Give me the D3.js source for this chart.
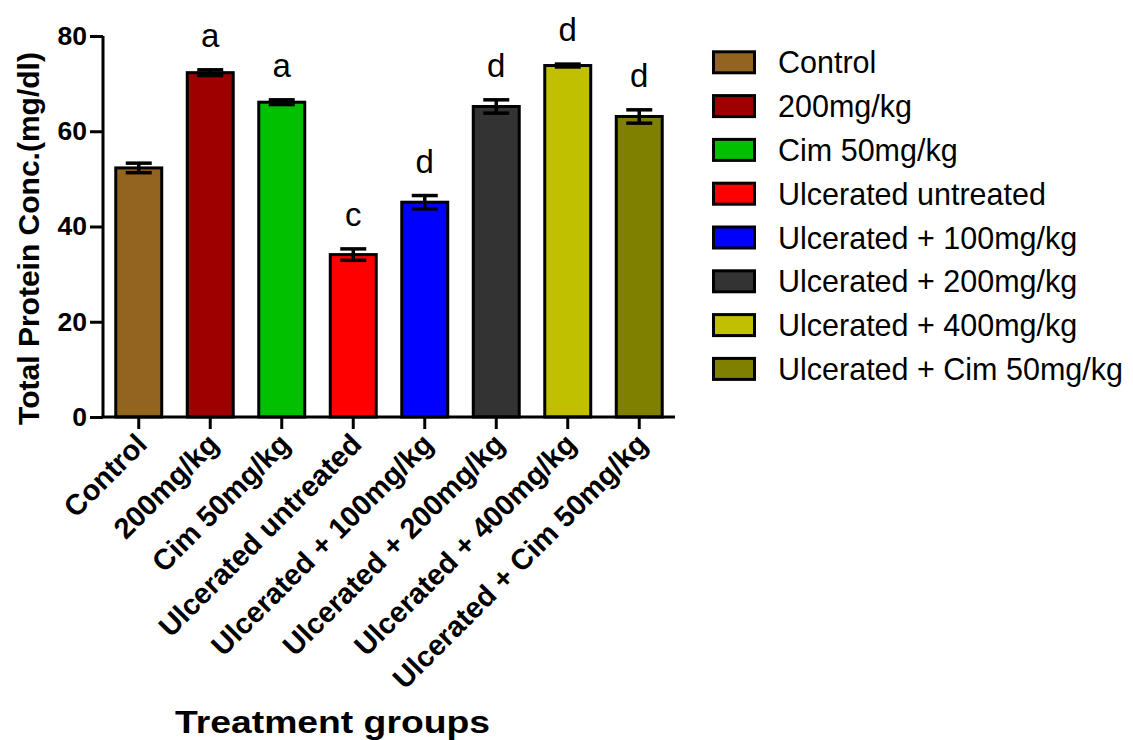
<!DOCTYPE html>
<html>
<head>
<meta charset="utf-8">
<script src="https://cdn.jsdelivr.net/npm/d3@7"></script>
<style>
  html, body { margin: 0; padding: 0; background: #fff; }
  svg { display: block; font-family: "Liberation Sans", Arial, Helvetica, sans-serif; }
</style>
</head>
<body>
<svg id="chart" width="1133" height="740"></svg>
<script>
const categories = ["Control", "200mg/kg", "Cim 50mg/kg", "Ulcerated untreated",
  "Ulcerated + 100mg/kg", "Ulcerated + 200mg/kg", "Ulcerated + 400mg/kg", "Ulcerated + Cim 50mg/kg"];
const means = [52.3, 72.3, 66.1, 34.1, 45.1, 65.2, 73.8, 63.1];
const sems = [1.0, 0.6, 0.5, 1.2, 1.4, 1.4, 0.3, 1.4];
const letters = ["", "a", "a", "c", "d", "d", "d", "d"];
const colors = ["#936320", "#9e0000", "#00c000", "#ff0000", "#0000ff", "#333333", "#c0c000", "#808000"];
const yTicks = [0, 20, 40, 60, 80];

const svg = d3.select("#chart");
const x0 = 103, x1 = 675, yTop = 36, yBot = 417;

const x = d3.scaleBand().domain(categories).range([x0, x1]).paddingInner(0.357).paddingOuter(0.1785);
const y = d3.scaleLinear().domain([0, 80]).range([yBot, yTop]);

// Bars
svg.append("g").selectAll("rect").data(categories).join("rect")
  .attr("x", d => x(d))
  .attr("y", (d, i) => y(means[i]))
  .attr("width", x.bandwidth())
  .attr("height", (d, i) => y(0) - y(means[i]))
  .attr("fill", (d, i) => colors[i])
  .attr("stroke", "#000")
  .attr("stroke-width", 3);

// Error bars
const eg = svg.append("g").attr("stroke", "#000").attr("stroke-width", 3.5);
categories.forEach((c, i) => {
  const cx = x(c) + x.bandwidth() / 2;
  const hi = y(means[i] + sems[i]), lo = y(means[i] - sems[i]);
  eg.append("line").attr("x1", cx).attr("x2", cx).attr("y1", hi).attr("y2", lo);
  eg.append("line").attr("x1", cx - 13).attr("x2", cx + 13).attr("y1", hi).attr("y2", hi);
  eg.append("line").attr("x1", cx - 13).attr("x2", cx + 13).attr("y1", lo).attr("y2", lo);
});

// Significance letters
svg.append("g").selectAll("text").data(categories).join("text")
  .attr("x", d => x(d) + x.bandwidth() / 2)
  .attr("y", (d, i) => y(means[i] + sems[i]) - 23)
  .attr("text-anchor", "middle")
  .attr("font-size", 33)
  .attr("fill", "#000")
  .text((d, i) => letters[i]);

// Y axis
const yAxis = d3.axisLeft(y).tickValues(yTicks).tickSize(13).tickPadding(3);
const gy = svg.append("g").attr("transform", `translate(${x0},0)`).call(yAxis);
gy.select(".domain").attr("stroke-width", 3).attr("d", `M0,${yTop}V${yBot}`);
gy.selectAll(".tick line").attr("stroke-width", 3);
gy.selectAll(".tick text").attr("font-size", 26.5).attr("font-weight", "bold")
  .attr("font-family", "Liberation Sans, Arial, sans-serif").attr("fill", "#000");

// X axis
const xAxis = d3.axisBottom(x).tickSize(12).tickPadding(0);
const gx = svg.append("g").attr("transform", `translate(0,${yBot})`).call(xAxis);
gx.select(".domain").attr("stroke-width", 3).attr("d", `M${x0 - 1.5},0H${x1}`);
gx.selectAll(".tick line").attr("stroke-width", 3);
gx.selectAll(".tick text")
  .attr("font-size", 29).attr("font-weight", "bold")
  .attr("font-family", "Liberation Sans, Arial, sans-serif").attr("fill", "#000")
  .attr("text-anchor", "end")
  .attr("dy", null).attr("y", null)
  .attr("transform", "translate(10,29) rotate(-45)");

// Axis titles
svg.append("text")
  .attr("transform", `translate(39,${(yTop + yBot) / 2 + 12}) rotate(-90)`)
  .attr("text-anchor", "middle")
  .attr("font-size", 30).attr("font-weight", "bold")
  .text("Total Protein Conc.(mg/dl)");

svg.append("text")
  .attr("x", 175).attr("y", 733)
  .attr("font-size", 31).attr("font-weight", "bold")
  .attr("textLength", 315).attr("lengthAdjust", "spacingAndGlyphs")
  .text("Treatment groups");

// Legend
const lg = svg.append("g");
categories.forEach((c, i) => {
  const cy = 62.3 + i * 43.8;
  lg.append("rect").attr("x", 713.5).attr("y", cy - 10.5).attr("width", 41).attr("height", 21)
    .attr("fill", colors[i]).attr("stroke", "#000").attr("stroke-width", 3);
  lg.append("text").attr("x", 778).attr("y", cy + 11).attr("font-size", 30.5).text(c);
});
</script>
</body>
</html>
